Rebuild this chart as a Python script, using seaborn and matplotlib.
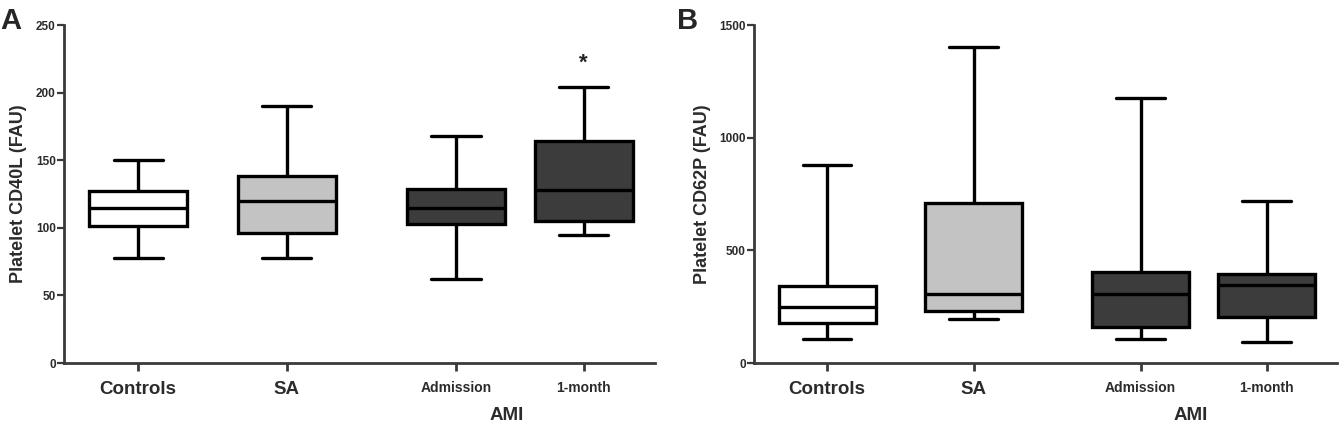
import pandas as pd
import matplotlib
matplotlib.use("Agg")
import matplotlib.pyplot as plt
import matplotlib.transforms as mtrans
import seaborn as sns

# five-number summaries: min, q1, median, q3, max
groups = ["Controls", "SA", "Admission", "1-month"]

cd40l_controls = [78, 101, 115, 127, 150]
cd40l_sa = [78, 96, 120, 138, 190]
cd40l_admission = [62, 103, 115, 129, 168]
cd40l_1month = [95, 105, 128, 164, 204]

cd62p_controls = [105, 178, 249, 341, 878]
cd62p_sa = [194, 231, 305, 712, 1401]
cd62p_admission = [105, 160, 305, 404, 1174]
cd62p_1month = [93, 204, 345, 394, 718]

cd40l_ticks = [0, 50, 100, 150, 200, 250]
cd62p_ticks = [0, 500, 1000, 1500]

# layout: where each group sits on the x axis (AMI pair is set apart)
xpos = {"Controls": 0, "SA": 1, "Admission": 2.14, "1-month": 3.0}
colors = {"Controls": "#ffffff", "SA": "#c3c3c3",
          "Admission": "#3c3c3c", "1-month": "#3c3c3c"}


def make_df(vals):
    rows = []
    for g, v in zip(groups, vals):
        for x in v:
            rows.append({"group": g, "pos": xpos[g], "value": x})
    return pd.DataFrame(rows)


sns.set_style("ticks")
plt.rcParams["font.family"] = ["Liberation Sans", "DejaVu Sans"]
plt.rcParams["font.weight"] = "bold"

fig = plt.figure(figsize=(13.39, 4.36), dpi=100)
W, H = 1339, 436
axA = fig.add_axes([64 / W, 73 / H, 591 / W, 338 / H])
axB = fig.add_axes([754 / W, 73 / H, 583 / W, 338 / H])

txt = "#2b2b2b"


def draw(ax, df, ticks, ylabel):
    sns.boxplot(data=df, x="pos", y="value", hue="group", hue_order=groups,
                palette=colors, native_scale=True, dodge=False, legend=False,
                whis=(0, 100), width=0.77, linecolor="black", linewidth=2.4,
                ax=ax)
    ax.set_ylim(ticks[0], ticks[-1])
    ax.set_yticks(ticks)
    ax.set_yticklabels([str(t) for t in ticks], fontsize=8.5, fontweight="bold",
                       color=txt)
    ax.set_xlim(-0.5, 3.48)
    ax.set_xticks([xpos[g] for g in groups])
    ax.set_xticklabels(groups)
    for lab, g in zip(ax.get_xticklabels(), groups):
        lab.set_fontweight("bold")
        lab.set_color(txt)
        if g in ("Controls", "SA"):
            lab.set_fontsize(13.5)
        else:
            lab.set_fontsize(10)
    ax.set_xlabel("")
    ax.set_ylabel(ylabel, fontsize=13, fontweight="bold", color=txt,
                  labelpad=6)
    for s in ("top", "right"):
        ax.spines[s].set_visible(False)
    for s in ("left", "bottom"):
        ax.spines[s].set_linewidth(2)
        ax.spines[s].set_color("#3a3a3a")
    ax.tick_params(axis="y", length=5, width=1.6, pad=1, color="#3a3a3a")
    ax.tick_params(axis="x", length=6, width=2, pad=7, color="#3a3a3a")
    trans = mtrans.blended_transform_factory(ax.transData, ax.transAxes)
    ax.text(2.48, -0.155, "AMI", transform=trans, ha="center", va="center",
            fontsize=13.5, fontweight="bold", color=txt)


draw(axA, make_df([cd40l_controls, cd40l_sa, cd40l_admission, cd40l_1month]),
     cd40l_ticks, "Platelet CD40L (FAU)")
draw(axB, make_df([cd62p_controls, cd62p_sa, cd62p_admission, cd62p_1month]),
     cd62p_ticks, "Platelet CD62P (FAU)")

axA.text(xpos["1-month"], 222, "*", ha="center", va="center", fontsize=16,
         fontweight="bold", color="#222222")

fig.text(0 / W, 1 - 21 / H, "A", fontsize=21, fontweight="bold", va="center")
fig.text(677 / W, 1 - 21 / H, "B", fontsize=21, fontweight="bold", va="center")

fig.savefig("out.png", dpi=100)
